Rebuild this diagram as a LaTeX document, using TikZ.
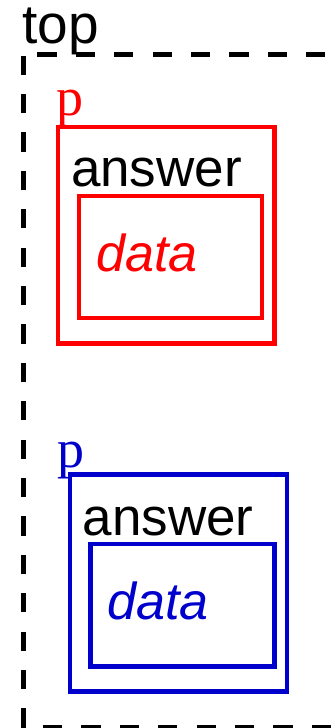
\documentclass[tikz,border=0pt]{standalone}
\usepackage{fontspec}
\newfontfamily\sansf{Liberation Sans}
\newfontfamily\seriff{Liberation Serif}
\definecolor{pblue}{RGB}{0,0,205}
\definecolor{pred}{RGB}{255,0,0}
\begin{document}
\begin{tikzpicture}[x=1pt,y=-1pt,
  frameline/.style={line width=5pt,dash pattern=on 19.2pt off 19.2pt},
  boxline/.style={draw,rectangle,line width=4.5pt,inner sep=0pt},
  bigsans/.style={inner sep=0pt,anchor=base west,font=\sansf\fontsize{53}{60}\selectfont},
  bigserif/.style={inner sep=0pt,anchor=base west,font=\seriff\fontsize{54}{60}\selectfont},
]
\useasboundingbox (0,0) rectangle (336,728);
\clip (0,0) rectangle (336,728);
% cluster frame
\coordinate (tl) at (23,54.5);
\coordinate (bl) at (23,727.5);
\coordinate (tr) at (360,54.5);
\coordinate (br) at (360,727.5);
\draw[frameline] (bl) -- (tl);
\draw[frameline,dash phase=24.1pt] (tl) -- (tr);
\draw[frameline,dash phase=18.4pt] (bl) -- (br);
\node[bigsans,font=\sansf\fontsize{55}{60}\selectfont] (toplabel) at (22,43) {top};
% red group
\node[bigserif,text=pred] (pred) at (56.5,115.5) {p};
\node[boxline,draw=pred,minimum width=216.5pt,minimum height=216.5pt] (redouter) at (166.25,235.25) {};
\node[bigsans] (redanswer) at (70.8,186) {answer};
\node[boxline,draw=pred,minimum width=183pt,minimum height=122pt] (redinner) at (170.5,257) {};
\node[bigsans,text=pred,font=\sansf\itshape\fontsize{52}{60}\selectfont] (reddata) at (96,271) {data};
% blue group
\node[bigserif,text=pblue] (pblue) at (57.5,467) {p};
\node[boxline,draw=pblue,minimum width=217pt,minimum height=217pt] (blueouter) at (178.5,583) {};
\node[bigsans] (blueanswer) at (82.4,535) {answer};
\node[boxline,draw=pblue,minimum width=184pt,minimum height=122.5pt] (blueinner) at (182.5,605.25) {};
\node[bigsans,text=pblue,font=\sansf\itshape\fontsize{52}{60}\selectfont] (bluedata) at (107,619) {data};
\end{tikzpicture}
\end{document}
